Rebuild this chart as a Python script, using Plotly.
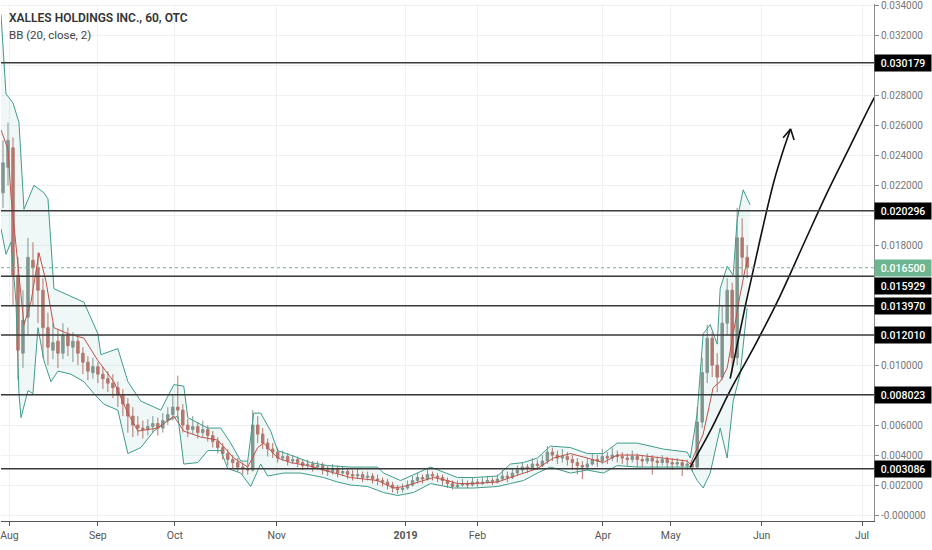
import plotly.graph_objects as go

# hourly candles, resampled: one bar per ~5px of the original chart
opens = [0.0215, 0.0232, 0.0245, 0.0160, 0.0108, 0.0132, 0.0170, 0.0165, 0.0150, 0.0125,
         0.0110, 0.0116, 0.0108, 0.0120, 0.0112, 0.0116, 0.0108, 0.0102, 0.0095, 0.0099,
         0.0094, 0.0091, 0.0088, 0.0085, 0.0080, 0.0074, 0.0066, 0.0060, 0.0058, 0.0057,
         0.0059, 0.0061, 0.0058, 0.0063, 0.0067, 0.0072, 0.0070, 0.0060, 0.0057, 0.0059,
         0.0055, 0.0057, 0.0053, 0.0049, 0.0045, 0.0041, 0.0037, 0.0035, 0.0032, 0.0031,
         0.0030, 0.0060, 0.0054, 0.0048, 0.0044, 0.0042, 0.0038, 0.0039, 0.0036, 0.0037,
         0.0035, 0.0033, 0.0034, 0.0032, 0.0033, 0.0030, 0.0029, 0.0031, 0.0028, 0.0029,
         0.0027, 0.0026, 0.0027, 0.0025, 0.0026, 0.0024, 0.0023, 0.0022, 0.0020, 0.0018,
         0.0017, 0.0018, 0.0020, 0.0023, 0.0025, 0.0024, 0.0027, 0.0026, 0.0025, 0.0023,
         0.0021, 0.0019, 0.0020, 0.0021, 0.0020, 0.0022, 0.0021, 0.0022, 0.0023, 0.0022,
         0.0024, 0.0026, 0.0025, 0.0028, 0.0030, 0.0032, 0.0031, 0.0034, 0.0033, 0.0036,
         0.0042, 0.0040, 0.0038, 0.0039, 0.0037, 0.0035, 0.0033, 0.0032, 0.0034, 0.0037,
         0.0036, 0.0039, 0.0038, 0.0040, 0.0039, 0.0038, 0.0037, 0.0039, 0.0037, 0.0036,
         0.0038, 0.0036, 0.0035, 0.0037, 0.0035, 0.0034, 0.0035, 0.0033, 0.0034, 0.0032,
         0.0062, 0.0095, 0.0118, 0.0100, 0.0092, 0.0128, 0.0150, 0.0105, 0.0185, 0.0172]
highs = [0.0250, 0.0262, 0.0252, 0.0172, 0.0150, 0.0185, 0.0182, 0.0175, 0.0158, 0.0135,
         0.0128, 0.0124, 0.0128, 0.0125, 0.0122, 0.0119, 0.0112, 0.0106, 0.0105, 0.0102,
         0.0099, 0.0096, 0.0094, 0.0089, 0.0084, 0.0078, 0.0072, 0.0066, 0.0063, 0.0064,
         0.0066, 0.0065, 0.0068, 0.0072, 0.0080, 0.0093, 0.0074, 0.0064, 0.0066, 0.0062,
         0.0063, 0.0060, 0.0056, 0.0052, 0.0048, 0.0044, 0.0040, 0.0038, 0.0035, 0.0036,
         0.0070, 0.0066, 0.0058, 0.0051, 0.0048, 0.0045, 0.0043, 0.0041, 0.0040, 0.0039,
         0.0037, 0.0037, 0.0036, 0.0036, 0.0035, 0.0033, 0.0034, 0.0033, 0.0032, 0.0031,
         0.0030, 0.0031, 0.0029, 0.0029, 0.0028, 0.0027, 0.0025, 0.0024, 0.0022, 0.0020,
         0.0021, 0.0023, 0.0026, 0.0028, 0.0027, 0.0031, 0.0029, 0.0028, 0.0027, 0.0025,
         0.0023, 0.0023, 0.0024, 0.0023, 0.0025, 0.0024, 0.0025, 0.0026, 0.0025, 0.0027,
         0.0030, 0.0029, 0.0031, 0.0033, 0.0035, 0.0034, 0.0038, 0.0037, 0.0040, 0.0046,
         0.0045, 0.0043, 0.0044, 0.0042, 0.0040, 0.0038, 0.0036, 0.0038, 0.0041, 0.0040,
         0.0044, 0.0042, 0.0045, 0.0043, 0.0042, 0.0041, 0.0043, 0.0041, 0.0040, 0.0041,
         0.0040, 0.0039, 0.0040, 0.0039, 0.0038, 0.0038, 0.0037, 0.0037, 0.0036, 0.0072,
         0.0105, 0.0127, 0.0122, 0.0108, 0.0140, 0.0158, 0.0155, 0.0205, 0.0198, 0.0180]
lows = [0.0205, 0.0220, 0.0140, 0.0090, 0.0098, 0.0120, 0.0140, 0.0128, 0.0105, 0.0100,
        0.0104, 0.0098, 0.0104, 0.0106, 0.0102, 0.0100, 0.0094, 0.0090, 0.0091, 0.0088,
        0.0084, 0.0082, 0.0078, 0.0072, 0.0066, 0.0055, 0.0052, 0.0053, 0.0051, 0.0053,
        0.0055, 0.0053, 0.0055, 0.0060, 0.0063, 0.0064, 0.0055, 0.0052, 0.0054, 0.0051,
        0.0052, 0.0049, 0.0045, 0.0041, 0.0037, 0.0033, 0.0031, 0.0029, 0.0027, 0.0027,
        0.0029, 0.0048, 0.0044, 0.0039, 0.0038, 0.0035, 0.0036, 0.0033, 0.0034, 0.0032,
        0.0030, 0.0031, 0.0029, 0.0030, 0.0027, 0.0026, 0.0027, 0.0025, 0.0026, 0.0024,
        0.0023, 0.0024, 0.0022, 0.0023, 0.0021, 0.0020, 0.0019, 0.0017, 0.0015, 0.0014,
        0.0015, 0.0017, 0.0019, 0.0021, 0.0021, 0.0023, 0.0023, 0.0022, 0.0020, 0.0018,
        0.0017, 0.0018, 0.0019, 0.0018, 0.0019, 0.0019, 0.0020, 0.0021, 0.0020, 0.0021,
        0.0023, 0.0022, 0.0024, 0.0026, 0.0028, 0.0028, 0.0030, 0.0030, 0.0032, 0.0034,
        0.0036, 0.0034, 0.0035, 0.0033, 0.0030, 0.0027, 0.0024, 0.0030, 0.0033, 0.0032,
        0.0034, 0.0034, 0.0036, 0.0035, 0.0034, 0.0033, 0.0035, 0.0032, 0.0032, 0.0034,
        0.0027, 0.0031, 0.0033, 0.0031, 0.0030, 0.0032, 0.0026, 0.0030, 0.0029, 0.0031,
        0.0058, 0.0088, 0.0092, 0.0082, 0.0090, 0.0120, 0.0095, 0.0100, 0.0160, 0.0158]
closes = [0.0235, 0.0250, 0.0160, 0.0110, 0.0130, 0.0172, 0.0165, 0.0150, 0.0125, 0.0112,
          0.0115, 0.0108, 0.0120, 0.0113, 0.0116, 0.0108, 0.0102, 0.0096, 0.0099, 0.0094,
          0.0091, 0.0088, 0.0085, 0.0080, 0.0074, 0.0066, 0.0060, 0.0058, 0.0057, 0.0059,
          0.0061, 0.0058, 0.0063, 0.0067, 0.0072, 0.0070, 0.0060, 0.0057, 0.0059, 0.0055,
          0.0057, 0.0053, 0.0049, 0.0045, 0.0041, 0.0037, 0.0035, 0.0032, 0.0031, 0.0030,
          0.0060, 0.0054, 0.0048, 0.0044, 0.0042, 0.0038, 0.0039, 0.0036, 0.0037, 0.0035,
          0.0033, 0.0034, 0.0032, 0.0033, 0.0030, 0.0029, 0.0031, 0.0028, 0.0029, 0.0027,
          0.0026, 0.0027, 0.0025, 0.0026, 0.0024, 0.0023, 0.0022, 0.0020, 0.0018, 0.0017,
          0.0018, 0.0020, 0.0023, 0.0025, 0.0024, 0.0027, 0.0026, 0.0025, 0.0023, 0.0021,
          0.0019, 0.0020, 0.0021, 0.0020, 0.0022, 0.0021, 0.0022, 0.0023, 0.0022, 0.0024,
          0.0026, 0.0025, 0.0028, 0.0030, 0.0032, 0.0031, 0.0034, 0.0033, 0.0036, 0.0042,
          0.0040, 0.0038, 0.0039, 0.0037, 0.0035, 0.0033, 0.0032, 0.0034, 0.0037, 0.0036,
          0.0039, 0.0038, 0.0040, 0.0039, 0.0038, 0.0037, 0.0039, 0.0037, 0.0036, 0.0038,
          0.0036, 0.0035, 0.0037, 0.0035, 0.0034, 0.0035, 0.0033, 0.0034, 0.0032, 0.0062,
          0.0095, 0.0118, 0.0100, 0.0092, 0.0128, 0.0150, 0.0105, 0.0185, 0.0172, 0.0165]
bars = list(range(len(closes)))

# Bollinger bands (20, close, 2)
upper_x = [-0.4, 0.6, 2.0, 3.2, 4.2, 6.2, 8.2, 9.0, 10.2, 13.0, 16.2, 19.0, 19.6, 23.0, 25.0,
           27.6, 31.6, 34.2, 36.2, 37.0, 41.0, 43.6, 45.6, 47.6, 49.0, 50.2, 51.6, 53.6, 55.0,
           57.6, 61.6, 65.0, 69.6, 75.0, 76.2, 79.6, 83.0, 85.6, 91.0, 94.2, 99.0, 101.6, 104.2,
           107.0, 109.6, 113.6, 117.0, 120.2, 123.0, 127.0, 132.2, 137.0, 137.6, 139.0, 140.2,
           141.6, 143.0, 143.6, 145.0, 146.2, 147.0, 148.2, 149.6]
upper = [0.0334, 0.0281, 0.0275, 0.0262, 0.0204, 0.0220, 0.0215, 0.0211, 0.0151, 0.0147,
         0.0142, 0.0121, 0.0107, 0.0111, 0.0089, 0.0076, 0.0070, 0.0087, 0.0086, 0.0065,
         0.0058, 0.0058, 0.0048, 0.0036, 0.0036, 0.0068, 0.0068, 0.0056, 0.0043, 0.0040,
         0.0035, 0.0033, 0.0032, 0.0032, 0.0028, 0.0023, 0.0028, 0.0032, 0.0025, 0.0025,
         0.0026, 0.0034, 0.0035, 0.0038, 0.0046, 0.0045, 0.0041, 0.0041, 0.0048, 0.0048,
         0.0044, 0.0042, 0.0038, 0.0068, 0.0121, 0.0127, 0.0114, 0.0151, 0.0166, 0.0160,
         0.0197, 0.0217, 0.0207]
mid_x = [-0.4, 1.0, 1.6, 3.0, 4.2, 5.6, 7.2, 8.6, 10.2, 13.0, 16.2, 19.0, 22.2, 25.0, 27.0,
         31.0, 34.2, 36.2, 39.6, 43.0, 46.2, 49.0, 51.0, 52.2, 55.0, 57.6, 61.0, 64.2, 69.6,
         75.0, 78.2, 80.2, 83.0, 86.2, 89.0, 91.0, 94.2, 99.0, 101.6, 104.2, 107.0, 110.2,
         113.6, 117.0, 120.2, 123.0, 127.0, 132.2, 137.0, 137.6, 140.2, 142.2, 143.6, 145.0,
         146.2, 147.6, 148.6, 149.2]
mid = [0.0257, 0.0244, 0.0213, 0.0169, 0.0127, 0.0142, 0.0175, 0.0156, 0.0125, 0.0121,
       0.0118, 0.0103, 0.0089, 0.0068, 0.0056, 0.0058, 0.0066, 0.0056, 0.0052, 0.0050,
       0.0038, 0.0032, 0.0045, 0.0048, 0.0038, 0.0035, 0.0033, 0.0030, 0.0025, 0.0023,
       0.0018, 0.0019, 0.0022, 0.0025, 0.0023, 0.0021, 0.0021, 0.0022, 0.0025, 0.0028,
       0.0031, 0.0038, 0.0041, 0.0038, 0.0035, 0.0040, 0.0040, 0.0038, 0.0036, 0.0034,
       0.0054, 0.0085, 0.0089, 0.0098, 0.0121, 0.0147, 0.0164, 0.0171]
lower_x = [-0.4, 0.6, 1.6, 2.6, 3.2, 3.6, 5.0, 6.0, 7.0, 8.2, 9.6, 11.0, 13.6, 16.2, 18.2,
           20.2, 23.0, 25.0, 27.6, 30.2, 33.0, 35.0, 36.2, 39.0, 41.0, 43.6, 45.0, 47.6, 49.6,
           51.6, 53.0, 56.2, 59.6, 64.2, 67.0, 69.6, 73.0, 76.2, 79.0, 82.2, 85.6, 90.2, 94.2,
           99.0, 101.6, 104.2, 107.0, 109.6, 113.6, 117.0, 120.2, 123.0, 127.0, 132.2, 137.0,
           137.6, 139.0, 140.2, 141.6, 143.6, 145.0, 146.2, 147.6, 149.0]
lower = [0.0191, 0.0174, 0.0182, 0.0142, 0.0081, 0.0065, 0.0083, 0.0081, 0.0125, 0.0103,
         0.0089, 0.0096, 0.0094, 0.0089, 0.0081, 0.0074, 0.0070, 0.0041, 0.0045, 0.0056,
         0.0063, 0.0066, 0.0034, 0.0035, 0.0043, 0.0043, 0.0031, 0.0028, 0.0019, 0.0034,
         0.0026, 0.0028, 0.0028, 0.0025, 0.0022, 0.0020, 0.0019, 0.0015, 0.0013, 0.0015,
         0.0021, 0.0018, 0.0018, 0.0019, 0.0021, 0.0023, 0.0028, 0.0032, 0.0028, 0.0030,
         0.0028, 0.0033, 0.0032, 0.0032, 0.0032, 0.0032, 0.0023, 0.0018, 0.0028, 0.0058,
         0.0038, 0.0076, 0.0094, 0.0138]

# horizontal levels drawn on the chart; the price scale nudges a label down
# when it would collide with the last-price label
levels = [0.030179, 0.020296, 0.015929, 0.013970, 0.012010, 0.008023, 0.003086]
label_nudge = [0, 0, -10, 0, 0, 0, 0]
last_price = 0.016500

# hand drawn projection lines
arrow_x = [145.6, 148.6, 151.6, 154.4, 156.4, 157.7]
arrow_y = [0.0091, 0.0139, 0.0184, 0.0223, 0.0245, 0.02576]
head_x = [156.2, 157.7, 158.4]
head_y = [0.02517, 0.02576, 0.02503]
curve_x = [137.6, 141.6, 145.6, 150.2, 155.0, 160.2, 165.0, 169.6, 173.6, 175.2]
curve_y = [0.0032, 0.0056, 0.0083, 0.0111, 0.0142, 0.0180, 0.0215, 0.0246, 0.0273, 0.0283]

# axis ticks
month_pos = [1.3, 19.0, 34.4, 54.8, 80.6, 95.0, 120.1, 133.7, 151.9, 172.0]
month_labels = ["Aug", "Sep", "Oct", "Nov", "<b>2019</b>", "Feb", "Apr", "May", "Jun", "Jul"]
price_ticks = [0.0, 0.002, 0.004, 0.006, 0.008, 0.010, 0.012, 0.014, 0.016, 0.018,
               0.020, 0.022, 0.024, 0.026, 0.028, 0.030, 0.032, 0.034]
# ticks whose labels sit under a level label on the price scale
covered_ticks = [0.008, 0.012, 0.014, 0.016, 0.020, 0.030]

FONT = "Roboto, Liberation Sans, sans-serif"

price_text = []
for t in price_ticks:
    if t == 0.0:
        price_text.append("-0.000000")
    elif t in covered_ticks:
        price_text.append("")
    else:
        price_text.append("%.6f" % t)

fig = go.Figure()

fig.add_trace(go.Scatter(x=upper_x + lower_x[::-1], y=upper + lower[::-1], fill="toself",
                         fillcolor="rgba(80,180,160,0.09)", line=dict(width=0),
                         mode="lines", hoverinfo="skip"))
fig.add_trace(go.Candlestick(x=bars, open=opens, high=highs, low=lows, close=closes,
                             increasing=dict(line=dict(color="#7c8983", width=1), fillcolor="#7c8983"),
                             decreasing=dict(line=dict(color="#b8645b", width=1), fillcolor="#b8645b"),
                             whiskerwidth=0, opacity=0.9))
fig.add_trace(go.Scatter(x=upper_x, y=upper, mode="lines", line=dict(color="#3f9c8a", width=1)))
fig.add_trace(go.Scatter(x=lower_x, y=lower, mode="lines", line=dict(color="#3f9c8a", width=1)))
fig.add_trace(go.Scatter(x=mid_x, y=mid, mode="lines", line=dict(color="#c1514a", width=1)))

fig.add_hline(y=last_price, line=dict(color="#6db68f", width=1, dash="dot"))
for lv, nudge in zip(levels, label_nudge):
    fig.add_hline(y=lv, line=dict(color="#3a3a3a", width=1.5))
    fig.add_annotation(x=1, xref="paper", y=lv, yref="y", xanchor="left", showarrow=False,
                       yshift=nudge, text="%.6f" % lv, bgcolor="#000000", width=54, height=14,
                       borderpad=1, font=dict(family=FONT, size=10.5, color="white", weight=500))
fig.add_annotation(x=1, xref="paper", y=last_price, yref="y", xanchor="left", showarrow=False,
                   text="%.6f" % last_price, bgcolor="#6db68f", width=54, height=14, borderpad=1,
                   font=dict(family=FONT, size=10.5, color="white", weight=500))

fig.add_trace(go.Scatter(x=arrow_x, y=arrow_y, mode="lines", line=dict(color="#111111", width=1.6),
                         line_shape="spline", hoverinfo="skip"))
fig.add_trace(go.Scatter(x=head_x, y=head_y, mode="lines", line=dict(color="#111111", width=1.6),
                         hoverinfo="skip"))
fig.add_trace(go.Scatter(x=curve_x, y=curve_y, mode="lines", line=dict(color="#111111", width=1.6),
                         line_shape="spline", hoverinfo="skip"))

fig.add_annotation(x=0, y=1, xref="paper", yref="paper", xanchor="left", yanchor="top",
                   xshift=6, yshift=-5, showarrow=False, text="XALLES HOLDINGS INC., 60, OTC",
                   font=dict(family=FONT, size=12, color="#333333", weight=600))
fig.add_annotation(x=0, y=1, xref="paper", yref="paper", xanchor="left", yanchor="top",
                   xshift=6, yshift=-22, showarrow=False, text="BB (20, close, 2)",
                   font=dict(family=FONT, size=11.5, color="#444444"))

fig.update_layout(width=932, height=550, margin=dict(l=0, r=58, t=0, b=29),
                  plot_bgcolor="white", paper_bgcolor="white", showlegend=False,
                  xaxis=dict(range=[-0.4, 174.4], tickvals=month_pos, ticktext=month_labels,
                             ticklabeloverflow="allow",
                             showgrid=True, gridcolor="#eef0f4", zeroline=False,
                             showline=True, linecolor="#555555", linewidth=1,
                             ticks="outside", ticklen=4, tickcolor="#555555",
                             tickfont=dict(family=FONT, size=10.5, color="#555555"),
                             rangeslider=dict(visible=False)),
                  yaxis=dict(side="right", range=[-0.0004, 0.0341], tickvals=price_ticks,
                             ticktext=price_text, ticklabeloverflow="allow",
                             showgrid=True, gridcolor="#eef0f4", zeroline=False,
                             showline=True, linecolor="#888888", linewidth=1,
                             ticks="outside", ticklen=4, tickcolor="#888888",
                             tickfont=dict(family=FONT, size=10, color="#777777")))

# the page body has a default 8px margin; drop it so the chart sits at the window origin
fig.write_html("out.html", config={"displayModeBar": False},
               post_script="document.body.style.margin='0';")
